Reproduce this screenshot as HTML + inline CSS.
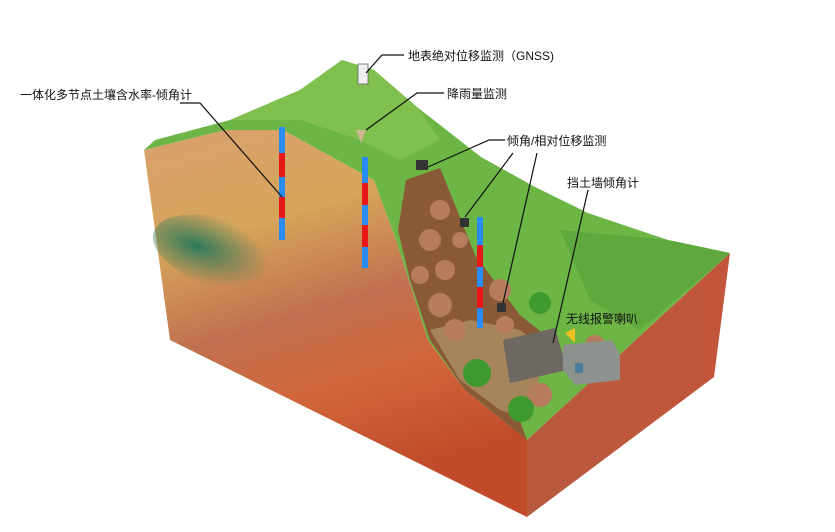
<!DOCTYPE html>
<html><head><meta charset="utf-8"><style>
html,body{margin:0;padding:0;background:#fff;}
svg{display:block;}
text{font-family:"Liberation Sans","Noto Sans CJK SC",sans-serif;font-size:12px;fill:#111;}
</style></head><body>
<svg width="835" height="532" viewBox="0 0 835 532" xmlns="http://www.w3.org/2000/svg">
<defs>
<linearGradient id="lf" x1="0" y1="0" x2="0.3" y2="1">
<stop offset="0" stop-color="#d9a070"/>
<stop offset="0.3" stop-color="#d6a55a"/>
<stop offset="0.55" stop-color="#c07050"/>
<stop offset="0.75" stop-color="#d2663a"/>
<stop offset="1" stop-color="#c04a2a"/>
</linearGradient>
<linearGradient id="rf" x1="0" y1="0" x2="1" y2="0">
<stop offset="0" stop-color="#b85a3e"/>
<stop offset="1" stop-color="#c2553a"/>
</linearGradient>
<radialGradient id="tl" cx="0.3" cy="0.5" r="0.5">
<stop offset="0" stop-color="#2f7a5a"/>
<stop offset="1" stop-color="#2f7a5a" stop-opacity="0"/>
</radialGradient>
</defs>
<!-- left face -->
<polygon points="144,150 225,130 283,130 374,180 396,240 428,340 465,390 527,440 527,517 170,340" fill="url(#lf)"/>
<ellipse cx="225" cy="255" rx="75" ry="35" fill="url(#tl)" transform="rotate(18 225 255)"/>
<!-- right face -->
<polygon points="527,440 730,253 714,377 527,517" fill="url(#rf)"/>
<!-- top green -->
<polygon points="144,150 155,140 230,120 300,90 342,60 374,70 417,107 481,157 535,187 588,213 668,240 730,253 527,440 465,390 428,340 396,240 374,180 283,130 225,130" fill="#6db545"/>
<polygon points="230,120 300,90 342,60 374,70 417,107 440,140 400,160 360,140 300,120" fill="#7fc04e"/>
<polygon points="560,230 668,240 730,253 640,330 590,300" fill="#5fa83e"/>
<!-- landslide -->
<polygon points="406,180 440,168 455,205 475,255 520,315 545,335 505,380 527,440 465,390 430,340 410,280 398,230" fill="#8a5a36"/>
<polygon points="430,330 470,320 520,330 545,350 530,420 500,410 460,380" fill="#a6845c"/>
<g fill="#b77c5e">
<circle cx="440" cy="210" r="10"/><circle cx="430" cy="240" r="11"/><circle cx="445" cy="270" r="10"/>
<circle cx="420" cy="275" r="9"/><circle cx="440" cy="305" r="12"/><circle cx="455" cy="330" r="11"/>
<circle cx="500" cy="290" r="11"/><circle cx="505" cy="325" r="9"/><circle cx="540" cy="395" r="12"/>
<circle cx="595" cy="345" r="10"/><circle cx="460" cy="240" r="8"/>
</g>
<!-- trees -->
<g fill="#3e9a2e"><circle cx="477" cy="373" r="14"/><circle cx="521" cy="409" r="13"/><circle cx="540" cy="303" r="11"/></g>
<!-- wall and house -->
<polygon points="503,340 555,328 567,370 510,383" fill="#6d6862"/>
<polygon points="563,345 612,340 620,355 620,380 575,385 563,370" fill="#8e928f"/>
<rect x="575" y="363" width="8" height="10" fill="#4a7a9a"/>
<!-- poles -->
<g stroke-width="6">
<line x1="282" y1="127" x2="282" y2="240" stroke="#2a8cf0"/>
<line x1="282" y1="153" x2="282" y2="177" stroke="#e81818"/>
<line x1="282" y1="197" x2="282" y2="218" stroke="#e81818"/>
<line x1="365" y1="157" x2="365" y2="268" stroke="#2a8cf0"/>
<line x1="365" y1="183" x2="365" y2="205" stroke="#e81818"/>
<line x1="365" y1="225" x2="365" y2="247" stroke="#e81818"/>
<line x1="480" y1="217" x2="480" y2="328" stroke="#2a8cf0"/>
<line x1="480" y1="245" x2="480" y2="267" stroke="#e81818"/>
<line x1="480" y1="287" x2="480" y2="308" stroke="#e81818"/>
</g>
<!-- devices -->
<rect x="358" y="64" width="10" height="20" fill="#eee" stroke="#666" stroke-width="0.8"/>
<polygon points="356,130 366,130 361,143" fill="#cdb592"/>
<rect x="416" y="160" width="12" height="10" fill="#333"/>
<rect x="460" y="218" width="9" height="9" fill="#333"/>
<rect x="497" y="303" width="9" height="9" fill="#333"/>
<polygon points="565,333 575,328 575,343" fill="#f0c020"/>
<!-- leader lines -->
<g stroke="#111" stroke-width="1.2" fill="none">
<polyline points="180,103 200,103 282,197"/>
<polyline points="404,55 382,55 366,73"/>
<polyline points="444,93 417,93 366,130"/>
<polyline points="505,140 489,140 428,167"/>
<line x1="513" y1="153" x2="465" y2="217"/>
<line x1="537" y1="153" x2="503" y2="303"/>
<line x1="588" y1="190" x2="553" y2="343"/>
</g>
<text x="20" y="99">一体化多节点土壤含水率-倾角计</text>
<text x="408" y="60">地表绝对位移监测（GNSS)</text>
<text x="447" y="98">降雨量监测</text>
<text x="507" y="145">倾角/相对位移监测</text>
<text x="567" y="187">挡土墙倾角计</text>
<text x="566" y="323">无线报警喇叭</text>
</svg>
</body></html>
